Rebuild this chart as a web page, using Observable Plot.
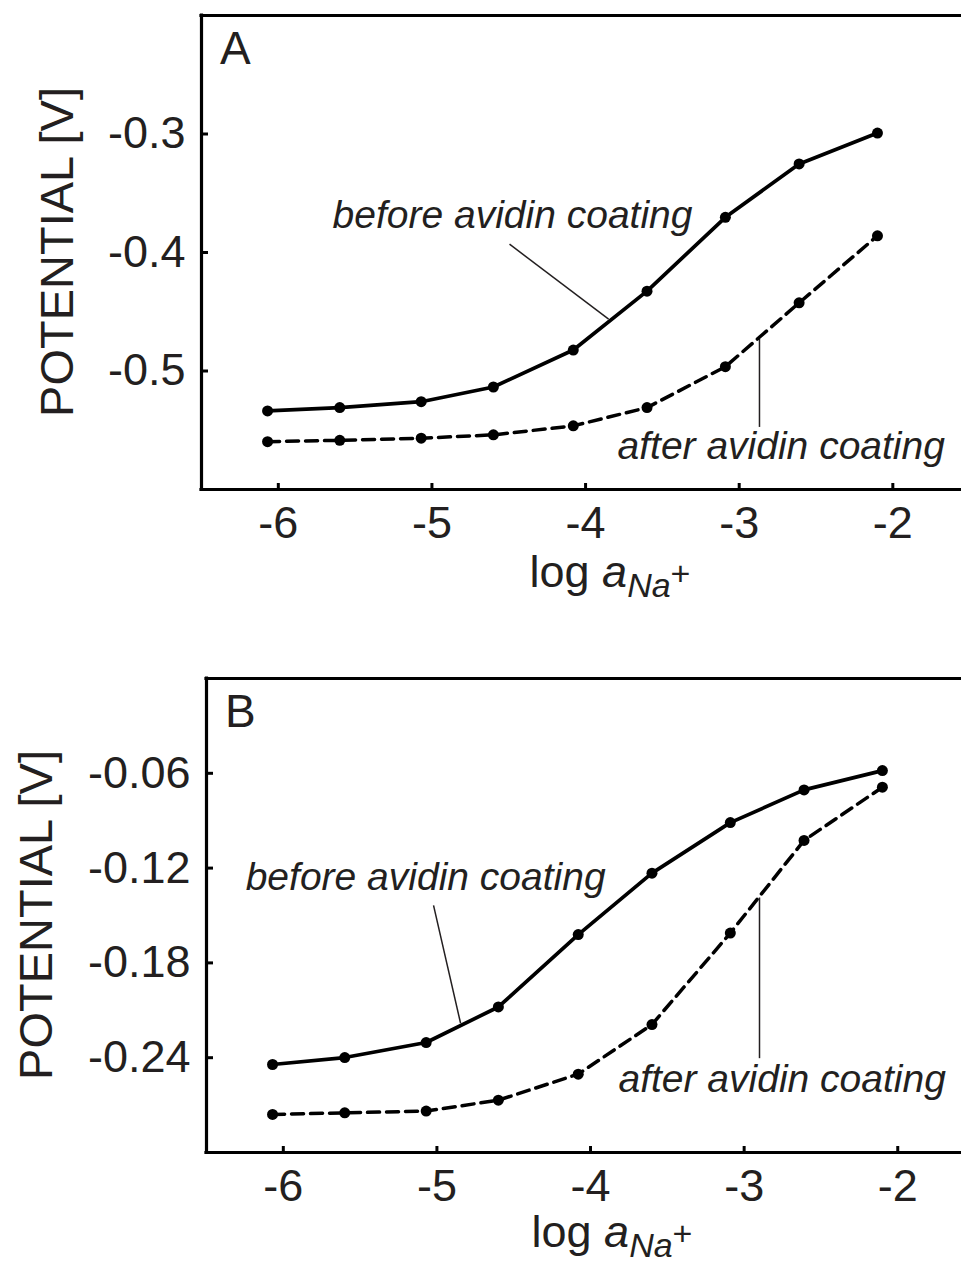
<!DOCTYPE html>
<html>
<head>
<meta charset="utf-8">
<script src="https://cdn.jsdelivr.net/npm/d3@7"></script>
<script src="https://cdn.jsdelivr.net/npm/@observablehq/plot@0.6"></script>
<style>
  html, body { margin: 0; padding: 0; background: #fff; }
  #chart svg { display: block; }
</style>
</head>
<body>
<div id="chart"></div>
<script>
// ---- data ----
const logNa = [-6.07, -5.6, -5.07, -4.6, -4.08, -3.6, -3.09, -2.61, -2.1];

const beforeA = [-0.5337, -0.5309, -0.5259, -0.5135, -0.4823, -0.4326, -0.3703, -0.3253, -0.2992];
const afterA  = [-0.5596, -0.5585, -0.5567, -0.5539, -0.5463, -0.5309, -0.4964, -0.4425, -0.3859];

const beforeB = [-0.2443, -0.2399, -0.2304, -0.2079, -0.1621, -0.1232, -0.0912, -0.0705, -0.0583];
const afterB  = [-0.2759, -0.2749, -0.2738, -0.2669, -0.2504, -0.2190, -0.1611, -0.1025, -0.0688];

const xTicks = [-6, -5, -4, -3, -2];
const xTickLabels = ["-6", "-5", "-4", "-3", "-2"];
const yTicksA = [-0.3, -0.4, -0.5];
const yTickLabelsA = ["-0.3", "-0.4", "-0.5"];
const yTicksB = [-0.06, -0.12, -0.18, -0.24];
const yTickLabelsB = ["-0.06", "-0.12", "-0.18", "-0.24"];

const panelLabels = ["A", "B"];
const seriesNames = ["before avidin coating", "after avidin coating"];
const yAxisLabel = "POTENTIAL [V]";

// ---- helpers ----
const FONT = "Liberation Sans, Arial, Helvetica, sans-serif";
const INK = "#231f20";

function toRows(xs, ys) { return xs.map((x, i) => ({x, y: ys[i]})); }

function makePanel(cfg) {
  const W = 961, H = 632;
  const plotW = W - cfg.marginLeft;
  const plotH = H - cfg.marginTop - cfg.marginBottom;
  const before = toRows(logNa, cfg.before);
  const after = toRows(logNa, cfg.after);

  const plot = Plot.plot({
    width: W,
    height: H,
    marginLeft: cfg.marginLeft,
    marginRight: 0,
    marginTop: cfg.marginTop,
    marginBottom: cfg.marginBottom,
    style: {fontFamily: FONT, fontSize: "45px", color: INK, background: "#fff", overflow: "visible"},
    x: {
      domain: cfg.xDomain,
      ticks: xTicks,
      tickFormat: d => xTickLabels[xTicks.indexOf(d)],
      tickSize: 0,
      tickPadding: 17,
      label: null
    },
    y: {
      domain: cfg.yDomain,
      ticks: cfg.yTicks,
      tickFormat: d => cfg.yTickLabels[cfg.yTicks.indexOf(d)],
      tickSize: 0,
      tickPadding: 16,
      label: null
    },
    marks: [
      // frame: left, top, bottom (right side runs off the page)
      Plot.ruleY([cfg.yDomain[0], cfg.yDomain[1]], {stroke: "#000", strokeWidth: 3.2, strokeLinecap: "square"}),
      Plot.ruleX([cfg.xDomain[0]], {stroke: "#000", strokeWidth: 3.2, strokeLinecap: "square"}),
      // inward tick marks
      Plot.tickX(xTicks, {x: d => d, insetTop: plotH - 6, stroke: "#000", strokeWidth: 3}),
      Plot.tickY(cfg.yTicks, {y: d => d, insetRight: plotW - 7, stroke: "#000", strokeWidth: 3}),
      // leader lines
      Plot.link(cfg.leaders, {x1: "x1", y1: "y1", x2: "x2", y2: "y2", stroke: INK, strokeWidth: 1.5}),
      // series
      Plot.line(after, {x: "x", y: "y", stroke: "#000", strokeWidth: 3.5, strokeDasharray: "12,7"}),
      Plot.line(before, {x: "x", y: "y", stroke: "#000", strokeWidth: 3.7}),
      Plot.dot(after, {x: "x", y: "y", r: 5.5, fill: "#000"}),
      Plot.dot(before, {x: "x", y: "y", r: 5.5, fill: "#000"}),
      // annotations
      Plot.text(cfg.notes, {x: "x", y: "y", text: "text", textAnchor: "start", lineAnchor: "bottom",
        fontStyle: "italic", fontSize: 39, fill: INK})
    ]
  });

  const svg = d3.select(plot);
  const left = cfg.marginLeft, top = cfg.marginTop, bottom = H - cfg.marginBottom;

  // panel letter
  svg.append("text")
    .attr("x", left + 19).attr("y", top + 49)
    .attr("text-anchor", "start")
    .attr("font-size", 46).attr("font-family", FONT).attr("fill", INK)
    .text(cfg.letter);

  // y axis label
  svg.append("text")
    .attr("transform", `translate(${cfg.yLabelX},${(top + bottom) / 2}) rotate(-90)`)
    .attr("text-anchor", "middle")
    .attr("font-size", 47).attr("font-family", FONT).attr("fill", INK)
    .text(yAxisLabel);

  // x axis label: log a_{Na+}
  const t = svg.append("text")
    .attr("x", left + cfg.xLabelCenter).attr("y", bottom + cfg.xLabelDrop)
    .attr("text-anchor", "middle")
    .attr("font-size", 45).attr("font-family", FONT).attr("fill", INK);
  t.append("tspan").text("log ");
  t.append("tspan").attr("font-style", "italic").text("a");
  t.append("tspan").attr("font-style", "italic").attr("font-size", 34).attr("dy", 10).text("Na");
  t.append("tspan").attr("font-size", 34).attr("dy", -12).text("+");

  return plot;
}

const chart = document.getElementById("chart");

chart.appendChild(makePanel({
  letter: panelLabels[0],
  before: beforeA, after: afterA,
  marginLeft: 201, marginTop: 15, marginBottom: 143,
  xDomain: [-6.5, -1.553], yDomain: [-0.6, -0.2],
  yTicks: yTicksA, yTickLabels: yTickLabelsA,
  yLabelX: 73, xLabelCenter: 409, xLabelDrop: 98,
  leaders: [
    {x1: -4.495, y1: -0.393, x2: -3.85, y2: -0.4562},
    {x1: -2.868, y1: -0.473, x2: -2.868, y2: -0.5472}
  ],
  notes: [
    {x: -5.647, y: -0.3795, text: seriesNames[0]},
    {x: -3.792, y: -0.5741, text: seriesNames[1]}
  ]
}));

chart.appendChild(makePanel({
  letter: panelLabels[1],
  before: beforeB, after: afterB,
  marginLeft: 206, marginTop: 46, marginBottom: 112,
  xDomain: [-6.5, -1.585], yDomain: [-0.3, 0],
  yTicks: yTicksB, yTickLabels: yTickLabelsB,
  yLabelX: 52, xLabelCenter: 406, xLabelDrop: 95,
  leaders: [
    {x1: -5.022, y1: -0.1436, x2: -4.846, y2: -0.2182},
    {x1: -2.9, y1: -0.1386, x2: -2.9, y2: -0.2403}
  ],
  notes: [
    {x: -6.245, y: -0.1341, text: seriesNames[0]},
    {x: -3.818, y: -0.2618, text: seriesNames[1]}
  ]
}));
</script>
</body>
</html>
